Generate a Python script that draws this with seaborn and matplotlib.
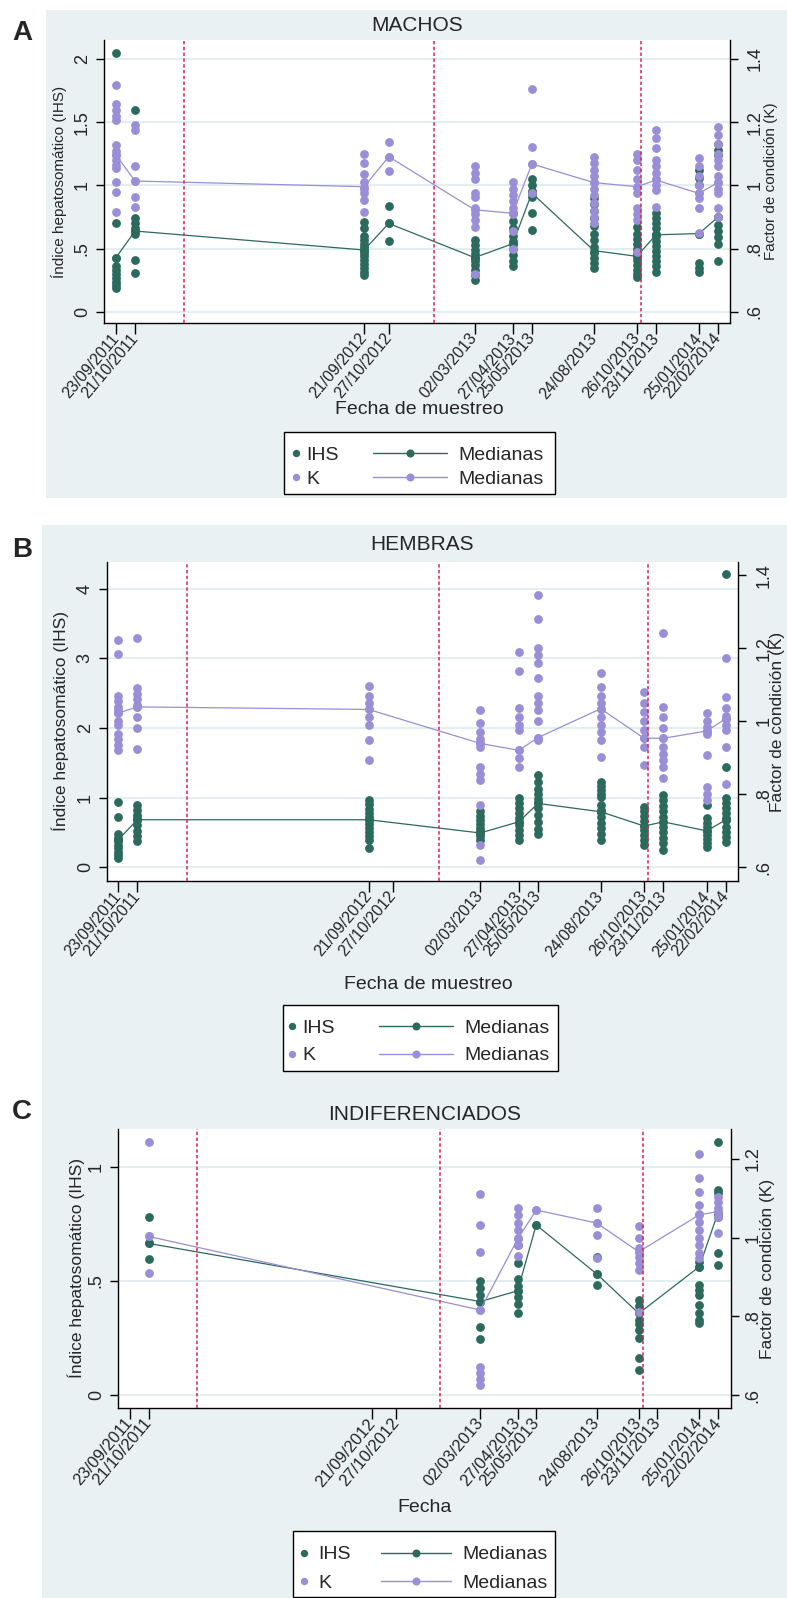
import numpy as np
import pandas as pd
import matplotlib
matplotlib.use('Agg')
import matplotlib.pyplot as plt
from matplotlib.patches import Rectangle
from matplotlib.lines import Line2D
import seaborn as sns

sns.set_style('ticks')
plt.rcParams['font.family'] = ['Liberation Sans', 'DejaVu Sans']

W, H = 787, 1598
VERDE = '#2b6a5d'
LILA = '#9a8ed6'
ROJO = '#d82352'
FONDO = '#e9f1f3'
REJILLA = '#e4eef0'

# fechas de muestreo (eje x) y cortes de temporada (lineas rojas)
FECHAS = ['23/09/2011', '21/10/2011', '21/09/2012', '27/10/2012', '02/03/2013',
          '27/04/2013', '25/05/2013', '24/08/2013', '26/10/2013', '23/11/2013',
          '25/01/2014', '22/02/2014']
CORTES = ['01/01/2012', '01/01/2013', '01/11/2013']

# ---- A: machos ----
A_IHS = [
    [2.05, 0.70, 0.43, 0.36, 0.33, 0.30, 0.27, 0.24, 0.21, 0.19],
    [1.60, 0.74, 0.70, 0.66, 0.64, 0.62, 0.41, 0.31],
    [0.71, 0.66, 0.60, 0.57, 0.54, 0.51, 0.49, 0.47, 0.44, 0.41, 0.38, 0.35, 0.32, 0.29],
    [0.84, 0.70, 0.56],
    [0.57, 0.53, 0.49, 0.46, 0.43, 0.40, 0.37, 0.33, 0.29, 0.25],
    [0.78, 0.72, 0.66, 0.60, 0.56, 0.54, 0.50, 0.45, 0.40, 0.36],
    [1.05, 1.00, 0.96, 0.94, 0.91, 0.78, 0.65],
    [0.90, 0.85, 0.80, 0.74, 0.68, 0.62, 0.57, 0.51, 0.47, 0.43, 0.39, 0.35],
    [0.67, 0.62, 0.58, 0.54, 0.50, 0.46, 0.44, 0.41, 0.37, 0.33, 0.30, 0.28],
    [0.78, 0.74, 0.70, 0.66, 0.62, 0.60, 0.56, 0.52, 0.48, 0.44, 0.40, 0.36, 0.32],
    [1.12, 1.06, 1.00, 0.62, 0.39, 0.35, 0.32],
    [1.33, 1.28, 1.24, 0.75, 0.69, 0.64, 0.59, 0.54, 0.40],
]
A_IHS_MED = [0.43, 0.64, 0.49, 0.70, 0.43, 0.54, 0.94, 0.485, 0.44, 0.61, 0.62, 0.75]
A_K = [
    [1.318, 1.258, 1.24, 1.22, 1.207, 1.128, 1.11, 1.095, 1.08, 1.065, 1.055, 1.012, 0.980, 0.917],
    [1.19, 1.175, 1.062, 1.014, 0.965, 0.931],
    [1.10, 1.07, 1.035, 1.01, 0.99, 0.975, 0.955, 0.915],
    [1.138, 1.091, 1.046],
    [1.06, 1.04, 1.02, 0.975, 0.965, 0.93, 0.91, 0.89, 0.87, 0.72],
    [1.01, 0.99, 0.97, 0.95, 0.93, 0.91, 0.855, 0.80],
    [1.305, 1.123, 1.068, 0.975],
    [1.09, 1.07, 1.05, 1.03, 1.01, 0.99, 0.97, 0.945, 0.92, 0.90, 0.88],
    [1.10, 1.08, 1.05, 1.02, 0.995, 0.975, 0.93, 0.91, 0.89, 0.79],
    [1.175, 1.15, 1.12, 1.08, 1.06, 1.04, 1.02, 1.0, 0.985, 0.933],
    [1.087, 1.06, 1.03, 1.0, 0.975, 0.96, 0.93, 0.85],
    [1.186, 1.16, 1.13, 1.10, 1.08, 1.06, 1.03, 1.01, 0.99, 0.975, 0.93, 0.90],
]
A_K_MED = [1.096, 1.014, 0.996, 1.091, 0.923, 0.912, 1.068, 1.009, 0.996, 1.017, 0.975, 1.009]

# ---- B: hembras ----
B_IHS = [
    [0.94, 0.715, 0.48, 0.42, 0.39, 0.37, 0.32, 0.27, 0.22, 0.17, 0.13],
    [0.89, 0.82, 0.75, 0.70, 0.68, 0.60, 0.52, 0.45, 0.37],
    [0.96, 0.90, 0.84, 0.78, 0.72, 0.68, 0.62, 0.56, 0.50, 0.44, 0.39, 0.27],
    [],
    [0.80, 0.74, 0.68, 0.62, 0.56, 0.52, 0.49, 0.45, 0.39],
    [0.99, 0.92, 0.85, 0.78, 0.71, 0.65, 0.60, 0.53, 0.46, 0.39],
    [1.32, 1.22, 1.12, 1.05, 0.98, 0.915, 0.85, 0.75, 0.65, 0.55, 0.47],
    [1.23, 1.17, 1.11, 1.05, 1.01, 0.89, 0.82, 0.795, 0.72, 0.64, 0.56, 0.48, 0.39],
    [0.87, 0.80, 0.73, 0.66, 0.59, 0.53, 0.46, 0.39, 0.32],
    [1.04, 0.96, 0.88, 0.80, 0.72, 0.65, 0.58, 0.50, 0.42, 0.34, 0.245],
    [0.89, 0.70, 0.63, 0.57, 0.52, 0.46, 0.40, 0.34, 0.29],
    [4.21, 1.435, 0.99, 0.92, 0.85, 0.78, 0.71, 0.68, 0.58, 0.50, 0.43, 0.36],
]
B_IHS_MED = [0.39, 0.68, 0.68, None, 0.49, 0.65, 0.915, 0.795, 0.59, 0.65, 0.52, 0.68]
B_K = [
    [1.222, 1.185, 1.07, 1.055, 1.04, 1.03, 1.022, 1.0, 0.99, 0.965, 0.95, 0.935, 0.92],
    [1.228, 1.09, 1.075, 1.06, 1.045, 1.039, 1.01, 0.98, 0.925],
    [1.097, 1.07, 1.05, 1.032, 1.01, 0.99, 0.948, 0.893],
    [],
    [1.03, 0.995, 0.97, 0.95, 0.939, 0.93, 0.875, 0.855, 0.838, 0.77, 0.66, 0.619],
    [1.19, 1.138, 1.036, 1.01, 0.99, 0.975, 0.92, 0.90, 0.874],
    [1.345, 1.281, 1.20, 1.18, 1.16, 1.117, 1.07, 1.05, 1.03, 1.0, 0.955, 0.948],
    [1.131, 1.094, 1.07, 1.05, 1.034, 1.01, 0.99, 0.97, 0.948, 0.902],
    [1.08, 1.05, 1.025, 1.0, 0.975, 0.953, 0.93, 0.879],
    [1.242, 1.039, 1.01, 0.98, 0.953, 0.93, 0.91, 0.893, 0.875, 0.843],
    [1.021, 1.0, 0.985, 0.973, 0.966, 0.907, 0.82, 0.80, 0.784],
    [1.172, 1.067, 1.035, 1.015, 1.007, 0.99, 0.975, 0.93, 0.829],
]
B_K_MED = [1.022, 1.039, 1.032, None, 0.939, 0.92, 0.955, 1.034, 0.953, 0.953, 0.973, 1.007]

# ---- C: indiferenciados ----
C_IHS = [
    [], [0.782, 0.665, 0.596], [], [],
    [0.50, 0.47, 0.44, 0.41, 0.30, 0.245],
    [0.658, 0.578, 0.51, 0.48, 0.457, 0.43, 0.40, 0.36],
    [0.746],
    [0.607, 0.531, 0.482],
    [0.417, 0.39, 0.358, 0.33, 0.31, 0.285, 0.249, 0.161, 0.11],
    [],
    [0.585, 0.563, 0.482, 0.46, 0.439, 0.395, 0.358, 0.33, 0.314],
    [1.111, 0.90, 0.885, 0.80, 0.78, 0.621, 0.570],
]
C_IHS_MED = [None, 0.665, None, None, 0.41, 0.457, 0.746, 0.531, 0.358, None, 0.563, 0.80]
C_K = [
    [], [1.244, 1.005, 0.911], [], [],
    [1.111, 1.032, 0.964, 0.816, 0.67, 0.655, 0.64, 0.625],
    [1.075, 1.058, 1.037, 1.02, 1.0, 0.98, 0.952],
    [1.07],
    [1.075, 1.037, 1.007, 0.948],
    [1.030, 0.998, 0.973, 0.964, 0.95, 0.935, 0.918, 0.812],
    [],
    [1.213, 1.151, 1.117, 1.083, 1.06, 1.04, 1.02, 1.0, 0.98, 0.96, 0.948],
    [1.104, 1.09, 1.075, 1.066, 1.053, 1.011],
]
C_K_MED = [None, 1.003, None, None, 0.816, 0.996, 1.07, 1.037, 0.964, None, 1.058, 1.066]

# ticks de los ejes y
A_TICKS_IHS, A_LAB_IHS = [0, 0.5, 1, 1.5, 2], ['0', '.5', '1', '1.5', '2']
B_TICKS_IHS, B_LAB_IHS = [0, 1, 2, 3, 4], ['0', '1', '2', '3', '4']
C_TICKS_IHS, C_LAB_IHS = [0, 0.5, 1], ['0', '.5', '1']
TICKS_K, LAB_K = [0.6, 0.8, 1.0, 1.2, 1.4], ['.6', '.8', '1', '1.2', '1.4']
C_TICKS_K, C_LAB_K = [0.6, 0.8, 1.0, 1.2], ['.6', '.8', '1', '1.2']


def fx(x):
    return x / W


def fy(y):
    return 1 - y / H


def tabla(valores):
    filas = [(f, v) for f, vs in zip(FECHAS, valores) for v in vs]
    df = pd.DataFrame(filas, columns=['fecha', 'valor'])
    df['fecha'] = pd.to_datetime(df['fecha'], format='%d/%m/%Y')
    return df


def tabla_med(valores):
    df = pd.DataFrame({'fecha': FECHAS, 'valor': valores}).dropna()
    df['fecha'] = pd.to_datetime(df['fecha'], format='%d/%m/%Y')
    return df


fig = plt.figure(figsize=(W / 100, H / 100), dpi=100)


def fondo(x0, y0, x1, y1):
    fig.add_artist(Rectangle((fx(x0), fy(y1)), (x1 - x0) / W, (y1 - y0) / H,
                             transform=fig.transFigure, facecolor=FONDO,
                             edgecolor='none', zorder=-10))


def leyenda(marco, x_punto, x_linea, fila_y, largo, sep_txt, sep_filas):
    x0, y0, x1, y1 = marco
    fig.add_artist(Rectangle((fx(x0), fy(y1)), (x1 - x0) / W, (y1 - y0) / H,
                             transform=fig.transFigure, facecolor='white',
                             edgecolor='black', lw=1, zorder=1))
    puntos = [Line2D([], [], ls='none', marker='o', color=c, markersize=5.3, mew=0)
              for c in (VERDE, LILA)]
    lineas = [Line2D([], [], color=c, lw=1, marker='o', markersize=5.8, mew=0)
              for c in (VERDE, LILA)]
    comun = dict(loc='center left', bbox_transform=fig.transFigure, frameon=False,
                 fontsize=14, borderpad=0, borderaxespad=0, labelspacing=sep_filas,
                 numpoints=1)
    fig.legend(puntos, ['IHS', 'K'], bbox_to_anchor=(fx(x_punto), fy(fila_y)),
               handlelength=0.4, handletextpad=sep_txt, **comun)
    fig.legend(lineas, ['Medianas', 'Medianas'], bbox_to_anchor=(fx(x_linea), fy(fila_y)),
               handlelength=largo, handletextpad=0.6, **comun)


def panel(caja, ihs, k, ihs_med, k_med, lim_ihs, lim_k, ticks_ihs, lab_ihs,
          ticks_k, lab_k, dias, titulo, pad_titulo, xlabel, pos_xlabel,
          x_ylab, tam_ylab, x_klab, tam_klab, tam_fechas, pad_k):
    x0, y0, x1, y1 = caja
    ax = fig.add_axes([fx(x0), fy(y1), (x1 - x0) / W, (y1 - y0) / H])
    ax.set_facecolor('white')
    ax2 = ax.twinx()

    sns.scatterplot(data=tabla(ihs), x='fecha', y='valor', ax=ax, color=VERDE,
                    s=40, linewidth=0, zorder=3)
    sns.lineplot(data=tabla_med(ihs_med), x='fecha', y='valor', ax=ax, color=VERDE,
                 lw=0.9, marker='o', markersize=6.2, markeredgewidth=0, zorder=3)
    sns.scatterplot(data=tabla(k), x='fecha', y='valor', ax=ax2, color=LILA,
                    s=40, linewidth=0, zorder=3)
    sns.lineplot(data=tabla_med(k_med), x='fecha', y='valor', ax=ax2, color=LILA,
                 lw=0.9, marker='o', markersize=6.2, markeredgewidth=0, zorder=3)
    for c in pd.to_datetime(CORTES, format='%d/%m/%Y'):
        ax2.axvline(c, color=ROJO, lw=1.1, ls=(0, (2.2, 1.6)), zorder=5)

    fechas = pd.to_datetime(FECHAS, format='%d/%m/%Y')
    ax.set_xlim(fechas[0] - pd.Timedelta(days=dias[0]),
                fechas[-1] + pd.Timedelta(days=dias[1]))
    ax.set_ylim(*lim_ihs)
    ax2.set_ylim(*lim_k)

    ax.set_xticks(fechas, labels=FECHAS, rotation=50, ha='right', va='center',
                  rotation_mode='anchor', fontsize=tam_fechas)
    ax.set_yticks(ticks_ihs, labels=lab_ihs, rotation=90, va='center', fontsize=13)
    ax2.set_yticks(ticks_k, labels=lab_k, rotation=90, va='center', fontsize=13)
    ax.tick_params(axis='x', length=8, width=1, color='black', pad=1)
    ax.tick_params(axis='y', length=6, width=1, color='black', pad=3.5)
    ax2.tick_params(axis='y', length=6, width=1, color='black', pad=pad_k)

    ax.yaxis.grid(True, color=REJILLA, lw=1.5)
    ax.xaxis.grid(False)
    ax.set_axisbelow(True)

    for lado in ('top', 'right'):
        ax.spines[lado].set_visible(False)
    for lado in ('top', 'left', 'bottom'):
        ax2.spines[lado].set_visible(False)
    for sp in (ax.spines['left'], ax.spines['bottom'], ax2.spines['right']):
        sp.set_color('black')
        sp.set_linewidth(1)

    ax.set_title(titulo, fontsize=15, pad=pad_titulo)
    ax.set_xlabel(xlabel, fontsize=14)
    ax.xaxis.set_label_coords(*pos_xlabel)
    ax.xaxis.label.set_va('center')
    ax.set_ylabel('Índice hepatosomático (IHS)', fontsize=tam_ylab)
    ax.yaxis.set_label_coords(x_ylab, 0.5)
    ax.yaxis.label.set_va('center')
    ax2.set_ylabel('Factor de condición (K)', fontsize=tam_klab)
    ax2.yaxis.set_label_coords(x_klab, 0.5)
    ax2.yaxis.label.set_va('center')
    return ax, ax2


# A
fondo(46, 10, 787, 498)
fig.text(fx(22), fy(33), 'A', fontsize=20, fontweight='bold', ha='center', va='center')
panel((104, 40, 730, 323), A_IHS, A_K, A_IHS_MED, A_K_MED, (-0.087, 2.15), (0.565, 1.46),
      A_TICKS_IHS, A_LAB_IHS, TICKS_K, LAB_K, (17.6, 17.6), 'MACHOS', 6.5,
      'Fecha de muestreo', (0.503, -0.304), -0.072, 11, 1.066, 11, 11.5, 6)
leyenda((284, 432, 555, 494), 292, 373, 467, 3.8, 0.35, 0.36)

# B
fondo(42, 525, 787, 1087)
fig.text(fx(22), fy(550), 'B', fontsize=20, fontweight='bold', ha='center', va='center')
panel((107, 562, 738, 881), B_IHS, B_K, B_IHS_MED, B_K_MED, (-0.201, 4.388), (0.562, 1.436),
      B_TICKS_IHS, B_LAB_IHS, TICKS_K, LAB_K, (16, 17.4), 'HEMBRAS', 8.3,
      'Fecha de muestreo', (0.51, -0.326), -0.0745, 12.5, 1.062, 12.5, 11.5, 6.5)
leyenda((283, 1005, 558, 1071), 288, 379, 1042, 3.8, 0.35, 0.5)

# C
fondo(42, 1087, 787, 1598)
fig.text(fx(22), fy(1112), 'C', fontsize=20, fontweight='bold', ha='center', va='center')
panel((118, 1129, 731, 1408), C_IHS, C_K, C_IHS_MED, C_K_MED, (-0.057, 1.167), (0.567, 1.276),
      C_TICKS_IHS, C_LAB_IHS, C_TICKS_K, C_LAB_K, (18, 19.5), 'INDIFERENCIADOS', 6.8,
      'Fecha', (0.50, -0.355), -0.0685, 12.5, 1.060, 12.5, 12, 3.5)
leyenda((293, 1531, 555, 1597), 300, 381, 1569, 3.6, 0.55, 0.58)

fig.savefig('out.png', dpi=100, facecolor='white')
